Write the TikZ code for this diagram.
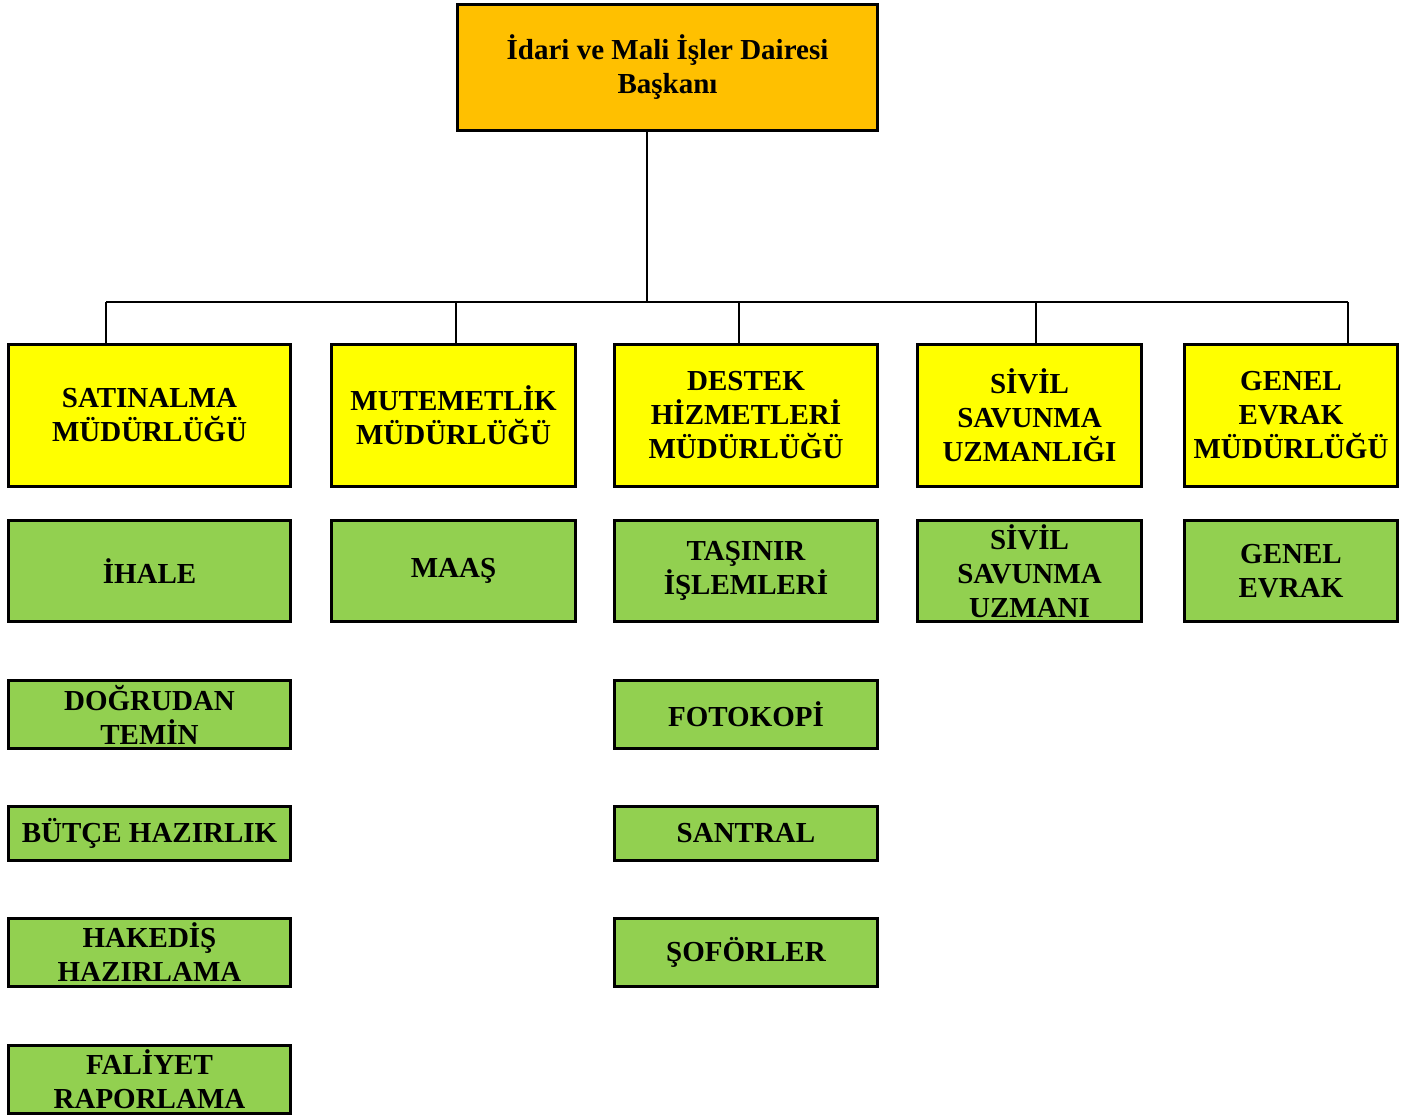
\documentclass[tikz,border=0pt]{standalone}
\usepackage{fontspec}
\setmainfont{Liberation Serif}
\usepackage{tikz}
\usetikzlibrary{positioning}

\definecolor{headorange}{HTML}{FFC000}
\definecolor{deptyellow}{HTML}{FFFF00}
\definecolor{taskgreen}{HTML}{92D050}

\tikzset{
  unit/.style={draw=black, line width=2.6pt, inner sep=0pt, align=center,
    font=\bfseries\fontsize{29}{34}\selectfont},
  head/.style={unit, fill=headorange},
  dept/.style={unit, fill=deptyellow, minimum height=142pt},
  task/.style={unit, fill=taskgreen},
  link/.style={line width=2pt},
}

\begin{document}
\begin{tikzpicture}[x=1pt,y=-1pt]
  \useasboundingbox (0,0) rectangle (1414,1117);
  % head of the department
  \node[head, minimum width=420pt, minimum height=126pt] (head) at (667.5,67.5)
    {İdari ve Mali İşler Dairesi\\Başkanı};
  % directorates
  \node[dept, minimum width=282pt] (satin) at (149.5,415.5) {SATINALMA\\MÜDÜRLÜĞÜ};
  \node[dept, minimum width=244pt] (mutem) at (453.5,415.5) {MUTEMETLİK\\MÜDÜRLÜĞÜ};
  \node[dept, minimum width=263pt] (destek) at (746,415.5) {DESTEK\\HİZMETLERİ\\MÜDÜRLÜĞÜ};
  \node[dept, minimum width=224pt] (sivil) at (1029.5,415.5) {SİVİL\\SAVUNMA\\UZMANLIĞI};
  \node[dept, minimum width=213pt] (genel) at (1291,415.5) {GENEL\\EVRAK\\MÜDÜRLÜĞÜ};
  % units, first row
  \node[task, minimum width=282pt, minimum height=101pt] (ihale) at (149.5,571) {İHALE};
  \node[task, minimum width=244pt, minimum height=101pt] (maas) at (453.5,571) {MAAŞ};
  \node[task, minimum width=263pt, minimum height=101pt] (tasinir) at (746,571) {TAŞINIR\\İŞLEMLERİ};
  \node[task, minimum width=224pt, minimum height=101pt] (uzman) at (1029.5,571) {SİVİL\\SAVUNMA\\UZMANI};
  \node[task, minimum width=213pt, minimum height=101pt] (evrak) at (1291,571) {GENEL\\EVRAK};
  % units, satinalma column
  \node[task, minimum width=282pt, minimum height=68pt] (temin) at (149.5,714.5) {DOĞRUDAN\\TEMİN};
  \node[task, minimum width=282pt, minimum height=54pt] (butce) at (149.5,833.5) {BÜTÇE HAZIRLIK};
  \node[task, minimum width=282pt, minimum height=68pt] (hakedis) at (149.5,952.5) {HAKEDİŞ\\HAZIRLAMA};
  \node[task, minimum width=282pt, minimum height=68pt] (faliyet) at (149.5,1079.5) {FALİYET\\RAPORLAMA};
  % units, destek column
  \node[task, minimum width=263pt, minimum height=68pt] (fotokopi) at (746,714.5) {FOTOKOPİ};
  \node[task, minimum width=263pt, minimum height=54pt] (santral) at (746,833.5) {SANTRAL};
  \node[task, minimum width=263pt, minimum height=68pt] (sofor) at (746,952.5) {ŞOFÖRLER};
  % connectors
  \coordinate (b0) at (647,302);
  \coordinate (b1) at (106,302);
  \coordinate (b2) at (456,302);
  \coordinate (b3) at (739,302);
  \coordinate (b4) at (1036,302);
  \coordinate (b5) at (1348,302);
  \draw[link] (head.south -| b0) -- (b0);
  \draw[link] (b1) -- (b5);
  \draw[link] (b1) -- (b1 |- satin.north);
  \draw[link] (b2) -- (b2 |- mutem.north);
  \draw[link] (b3) -- (b3 |- destek.north);
  \draw[link] (b4) -- (b4 |- sivil.north);
  \draw[link] (b5) -- (b5 |- genel.north);
\end{tikzpicture}
\end{document}
